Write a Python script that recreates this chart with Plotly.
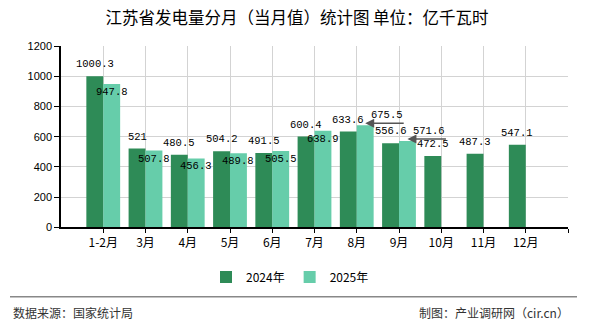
import plotly.graph_objects as go

categories = ["1-2月", "3月", "4月", "5月", "6月", "7月", "8月", "9月", "10月", "11月", "12月"]
values_2024 = [1000.3, 521, 480.5, 504.2, 491.5, 600.4, 633.6, 556.6, 472.5, 487.3, 547.1]
values_2025 = [947.8, 507.8, 456.3, 489.8, 505.5, 638.9, 675.5, 571.6]
series_names = ["2024年", "2025年"]
y_ticks = [0, 200, 400, 600, 800, 1000, 1200]
arrow_labels_2025 = {6, 7}  # indices of 2025 labels drawn with leader arrows

C24 = "#2E8B57"
C25 = "#66CDAA"
LABEL_FONT = dict(family="Liberation Mono, DejaVu Sans Mono, monospace", size=10.5, color="#000")

W, H = 590, 330
L, R, T, B = 61, 22, 46, 101
PW, PH = W - L - R, H - T - B

def px_x(px):
    return (px - L) / PW

def px_y(py):
    return (H - B - py) / PH

x24 = list(range(len(values_2024)))
x25 = list(range(len(values_2025)))

fig = go.Figure()
fig.add_trace(go.Bar(x=x24, y=values_2024, name=series_names[0], marker_color=C24,
                     marker_line_width=0, offsetgroup="a"))
fig.add_trace(go.Bar(x=x25, y=values_2025, name=series_names[1], marker_color=C25,
                     marker_line_width=0, offsetgroup="b"))

annotations = []
for i, v in enumerate(values_2024):
    annotations.append(dict(x=i - 0.2, y=v, xref="x", yref="y", text=str(v), showarrow=False,
                            yshift=12, font=LABEL_FONT))
for i, v in enumerate(values_2025):
    if i in arrow_labels_2025:
        annotations.append(dict(x=i + 0.2, y=v, xref="x", yref="y", text=" ", showarrow=True,
                                ax=40, ay=0, axref="pixel", ayref="pixel", yshift=2,
                                arrowhead=2, arrowsize=1.2, arrowwidth=1.5, arrowcolor="#555",
                                font=dict(size=1)))
        annotations.append(dict(x=i + 0.2, y=v, xref="x", yref="y", text=str(v), showarrow=False,
                                xshift=22, yshift=10, font=LABEL_FONT))
    else:
        annotations.append(dict(x=i + 0.2, y=v, xref="x", yref="y", text=str(v), showarrow=False,
                                yshift=-8, font=LABEL_FONT))

FOOT_FONT = dict(family="Noto Sans CJK SC, sans-serif", size=12, color="#333")
annotations.append(dict(x=px_x(11), y=px_y(315), xref="paper", yref="paper", text="数据来源：国家统计局",
                        showarrow=False, xanchor="left", yanchor="middle", font=FOOT_FONT))
annotations.append(dict(x=px_x(571), y=px_y(315), xref="paper", yref="paper", text="制图：产业调研网（cir.cn）",
                        showarrow=False, xanchor="right", yanchor="middle", font=FOOT_FONT))

fig.update_layout(
    width=W, height=H,
    margin=dict(l=L, r=R, t=T, b=B, pad=0),
    paper_bgcolor="white", plot_bgcolor="white",
    barmode="group", bargap=0.2, bargroupgap=0,
    title=dict(text="江苏省发电量分月（当月值）统计图 单位：亿千瓦时", x=297 / W, xanchor="center",
               xref="container", y=1 - 18 / H, yanchor="middle", yref="container",
               font=dict(family="Noto Sans CJK SC, sans-serif", size=16.5, color="#000")),
    legend=dict(orientation="h", x=290 / W, xanchor="center", xref="container",
                y=1 - 277 / H, yanchor="middle", yref="container",
                font=dict(family="Noto Sans CJK SC, sans-serif", size=12, color="#000"),
                itemwidth=30, traceorder="normal"),
    annotations=annotations,
    shapes=[dict(type="line", xref="paper", yref="paper", x0=px_x(10), x1=px_x(577),
                 y0=px_y(299), y1=px_y(299), line=dict(color="#888", width=1.5))],
    showlegend=True,
)
fig.update_xaxes(range=[-1, len(categories)], tickmode="array",
                 tickvals=list(range(len(categories) + 1)), ticktext=categories + [""],
                 showgrid=True, gridcolor="#d3d3d3", gridwidth=1,
                 showline=True, linecolor="#000", linewidth=1.5,
                 ticks="outside", ticklen=4, tickcolor="#000",
                 tickfont=dict(family="Noto Sans CJK SC, sans-serif", size=12, color="#000"),
                 zeroline=False, fixedrange=True)
fig.update_yaxes(range=[0, 1200], tickvals=y_ticks,
                 showgrid=True, gridcolor="#d3d3d3", gridwidth=1,
                 showline=True, linecolor="#000", linewidth=1.5,
                 ticks="outside", ticklen=5, tickcolor="#000",
                 tickfont=dict(family="Liberation Sans, Arial, sans-serif", size=11, color="#000"),
                 zeroline=False, fixedrange=True)

fig.write_html("out.html")
